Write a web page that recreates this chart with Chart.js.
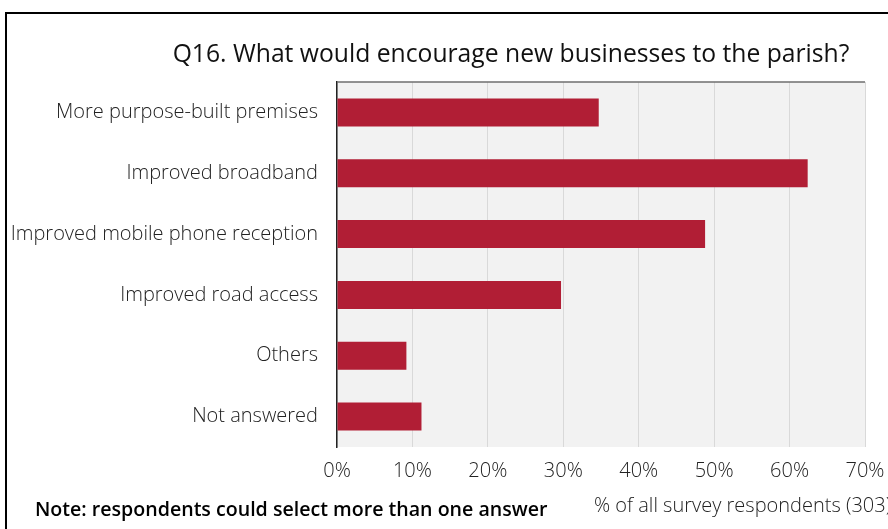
<!DOCTYPE html>
<html>
<head>
<meta charset="utf-8">
<script src="https://cdn.jsdelivr.net/npm/chart.js@4"></script>
<style>
    html, body { margin: 0; padding: 0; background: #fff; }
    #wrap { position: relative; width: 888px; height: 529px; overflow: hidden; }
    #frame { position: absolute; left: 5px; top: 12px; width: 900px; height: 540px;
             border-top: 2px solid #000; border-left: 2px solid #000; }
    canvas { position: absolute; left: 0; top: 0; }
</style>
</head>
<body>
<div id="wrap">
    <div id="frame"></div>
    <canvas id="chartQ16" width="888" height="529"></canvas>
</div>
<script>
// Datos del gráfico
const categories = [
    'More purpose-built premises',
    'Improved broadband',
    'Improved mobile phone reception',
    'Improved road access',
    'Others',
    'Not answered'
];
const percentValues = [34.7, 62.4, 48.8, 29.7, 9.2, 11.2];
const xTicks = [0, 10, 20, 30, 40, 50, 60, 70];

const titleText = 'Q16. What would encourage new businesses to the parish?';
const noteText = 'Note: respondents could select more than one answer';
const axisText = '% of all survey respondents (303)';

const fontFamily = '"Open Sans", Lato, sans-serif';

// Fondo del área de trazado, título y notas
const extras = {
    id: 'extras',
    beforeDraw(chart) {
        const { ctx, chartArea: a } = chart;
        ctx.save();
        ctx.fillStyle = '#f2f2f2';
        ctx.fillRect(a.left, a.top, a.right - a.left, a.bottom - a.top);
        ctx.restore();
    },
    afterDraw(chart) {
        const { ctx, chartArea: a } = chart;
        ctx.save();
        ctx.strokeStyle = '#6e6e6e';
        ctx.lineWidth = 1.5;
        ctx.beginPath();
        ctx.moveTo(a.left, a.top);
        ctx.lineTo(a.right, a.top);
        ctx.stroke();

        ctx.textBaseline = 'middle';
        ctx.fillStyle = '#111';
        ctx.textAlign = 'center';
        ctx.font = '24.7px ' + fontFamily;
        ctx.fillText(titleText, 511, 55);

        ctx.textAlign = 'left';
        ctx.fillStyle = '#000';
        ctx.font = '600 19.6px ' + fontFamily;
        ctx.fillText(noteText, 35, 510);

        ctx.fillStyle = '#222';
        ctx.font = '300 20px ' + fontFamily;
        ctx.fillText(axisText, 594, 506);
        ctx.restore();
    }
};

new Chart(document.getElementById('chartQ16').getContext('2d'), {
    type: 'bar',
    data: {
        labels: categories,
        datasets: [{
            data: percentValues,
            backgroundColor: '#b11e35',
            categoryPercentage: 1,
            barPercentage: 0.46
        }]
    },
    options: {
        indexAxis: 'y',
        responsive: false,
        animation: false,
        layout: { padding: { top: 82, right: 23, bottom: 0, left: 0 } },
        plugins: {
            legend: { display: false },
            tooltip: { enabled: false }
        },
        scales: {
            x: {
                min: 0,
                max: 70,
                afterFit(scale) {
                    scale.height = 82;
                    scale.paddingLeft = 0;
                    scale.paddingRight = 0;
                },
                afterBuildTicks(scale) { scale.ticks = xTicks.map(v => ({ value: v })); },
                grid: { color: '#d9d9d9', lineWidth: 1, drawTicks: false },
                border: { display: false },
                ticks: {
                    padding: 12,
                    color: '#222',
                    font: { family: fontFamily, size: 20, weight: '300' },
                    callback: v => v + '%'
                }
            },
            y: {
                afterFit(scale) { scale.width = 337; },
                grid: { display: false, drawTicks: false },
                border: { display: true, color: '#222', width: 1.5 },
                ticks: {
                    padding: 19,
                    color: '#222',
                    font: { family: fontFamily, size: 20, weight: '300' }
                }
            }
        }
    },
    plugins: [extras]
});
</script>
</body>
</html>
